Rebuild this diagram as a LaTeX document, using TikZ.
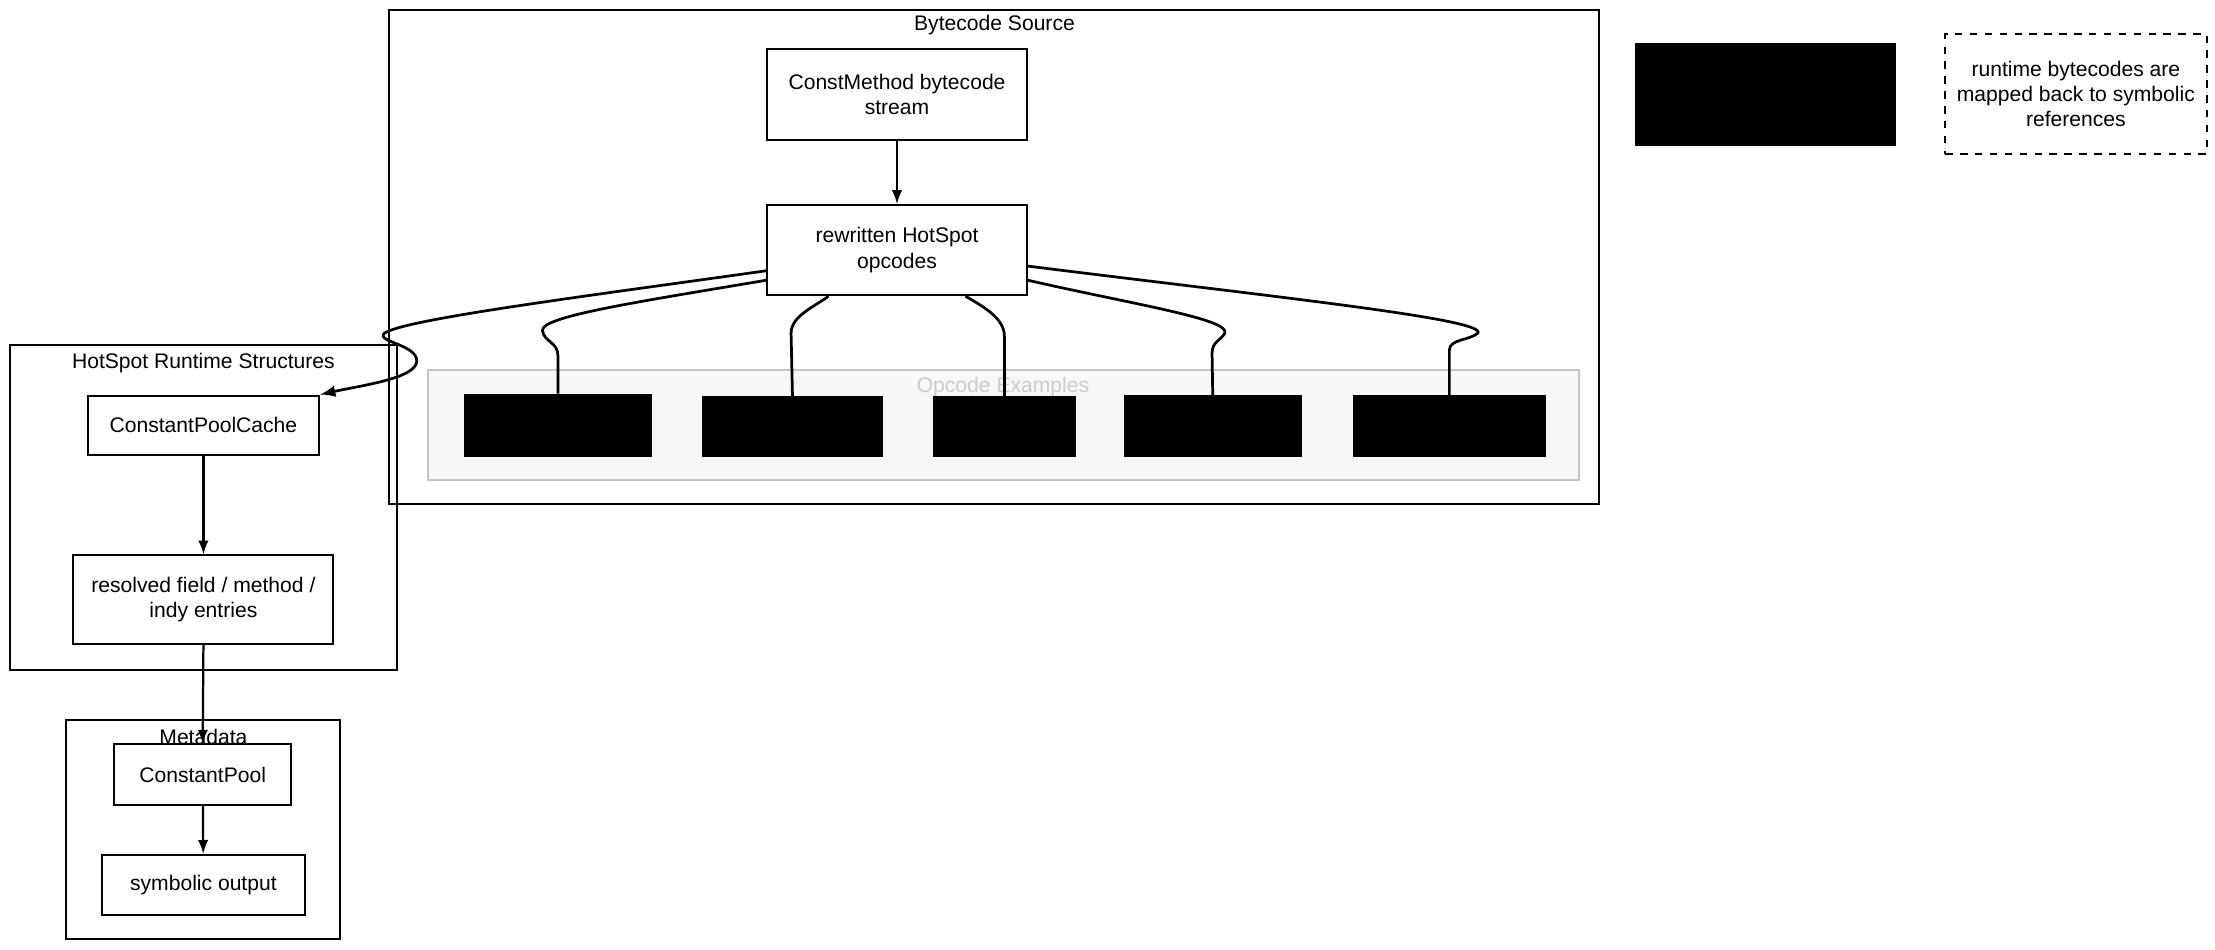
\documentclass[tikz,border=0pt]{standalone}
\usepackage{fontspec}
\setmainfont{Liberation Sans}
\usepackage{tikz}

\begin{document}
\begin{tikzpicture}[>=latex,x=0.02cm,y=-0.02cm,
        box/.style={draw,line width=0.8pt,fill=white,align=center,font=\fontsize{8.5}{10.2}\selectfont},
        blk/.style={draw,fill=black,inner sep=0pt},
        grp/.style={draw,line width=0.8pt,inner sep=0pt},
        ttl/.style={font=\fontsize{8.5}{10.2}\selectfont,inner sep=0pt},
        wire/.style={line width=1.1pt},
        arr/.style={->,line width=0.9pt}]
        \useasboundingbox (0,0) rectangle (1568,672);
        % groups
        \node[grp,minimum width=17.14cm,minimum height=7cm] (src) at (703.5,182) {};
        \node[ttl] (srct) at (704,18) {Bytecode Source};
        \node[grp,draw=gray!45,fill=gray!6,minimum width=16.3cm,minimum height=1.56cm] (ops) at (710.5,301) {};
        \node[ttl,text=gray!40] (opst) at (710,274) {Opcode Examples};
        \node[grp,minimum width=5.48cm,minimum height=4.6cm] (rt) at (144,359) {};
        \node[ttl] (rtt) at (144,257) {HotSpot Runtime Structures};
        \node[grp,minimum width=3.88cm,minimum height=3.1cm] (meta) at (144,587.5) {};
        \node[ttl] (metat) at (144,522) {Metadata};
        % boxes
        \node[box,minimum width=3.68cm,minimum height=1.28cm] (cm) at (635,67) {ConstMethod bytecode\\stream};
        \node[box,minimum width=3.68cm,minimum height=1.28cm] (rw) at (635,177) {rewritten HotSpot\\opcodes};
        \node[blk,minimum width=2.64cm,minimum height=0.88cm] (op1) at (395,301) {};
        \node[blk,minimum width=2.56cm,minimum height=0.84cm] (op2) at (561,302) {};
        \node[blk,minimum width=2cm,minimum height=0.84cm] (op3) at (711,302) {};
        \node[blk,minimum width=2.5cm,minimum height=0.86cm] (op4) at (858.5,301.5) {};
        \node[blk,minimum width=2.72cm,minimum height=0.86cm] (op5) at (1026,301.5) {};
        \node[blk,minimum width=3.68cm,minimum height=1.44cm] (key) at (1250,67) {};
        \node[box,dashed,minimum width=3.7cm,minimum height=1.7cm] (note) at (1469.5,66.5) {runtime bytecodes are\\mapped back to symbolic\\references};
        \node[box,minimum width=3.28cm,minimum height=0.84cm] (cpc) at (144,301) {ConstantPoolCache};
        \node[box,minimum width=3.68cm,minimum height=1.26cm] (res) at (144,424.5) {resolved field / method /\\indy entries};
        \node[box,minimum width=2.5cm,minimum height=0.86cm] (cp) at (143.5,548.5) {ConstantPool};
        \node[box,minimum width=2.88cm,minimum height=0.86cm] (sym) at (144,626.5) {symbolic output};
        % connectors
        \draw[arr] (cm) -- (rw);
        \draw[wire,->] (rw.189) .. controls (420,209) and (285,226) .. (272,236) .. controls (266,242) and (296,244) .. (295,256) .. controls (294,268) and (255,273) .. (cpc.north east);
        \draw[wire] (rw.193) .. controls (450,214) and (383,224) .. (384,234) .. controls (385,242) and (395,242) .. (395,252) -- (op1.north);
        \draw[wire] (rw.214) .. controls (575,218) and (560,224) .. (560,236) -- (op2.north);
        \draw[wire] (rw.326) .. controls (698,218) and (711,226) .. (711,238) -- (op3.north);
        \draw[wire] (rw.347) .. controls (800,215) and (872,226) .. (867,236) .. controls (864,241) and (858,242) .. (858,250) -- (op4.north);
        \draw[wire] (rw.353) .. controls (900,210) and (1055,226) .. (1046,236) .. controls (1040,241) and (1026,240) .. (1026,248) -- (op5.north);
        \draw[arr] (cpc) -- (res);
        \draw[arr] (res.south) -- (cp.north);
        \draw[arr] (cp) -- (sym);
    \end{tikzpicture}
\end{document}
